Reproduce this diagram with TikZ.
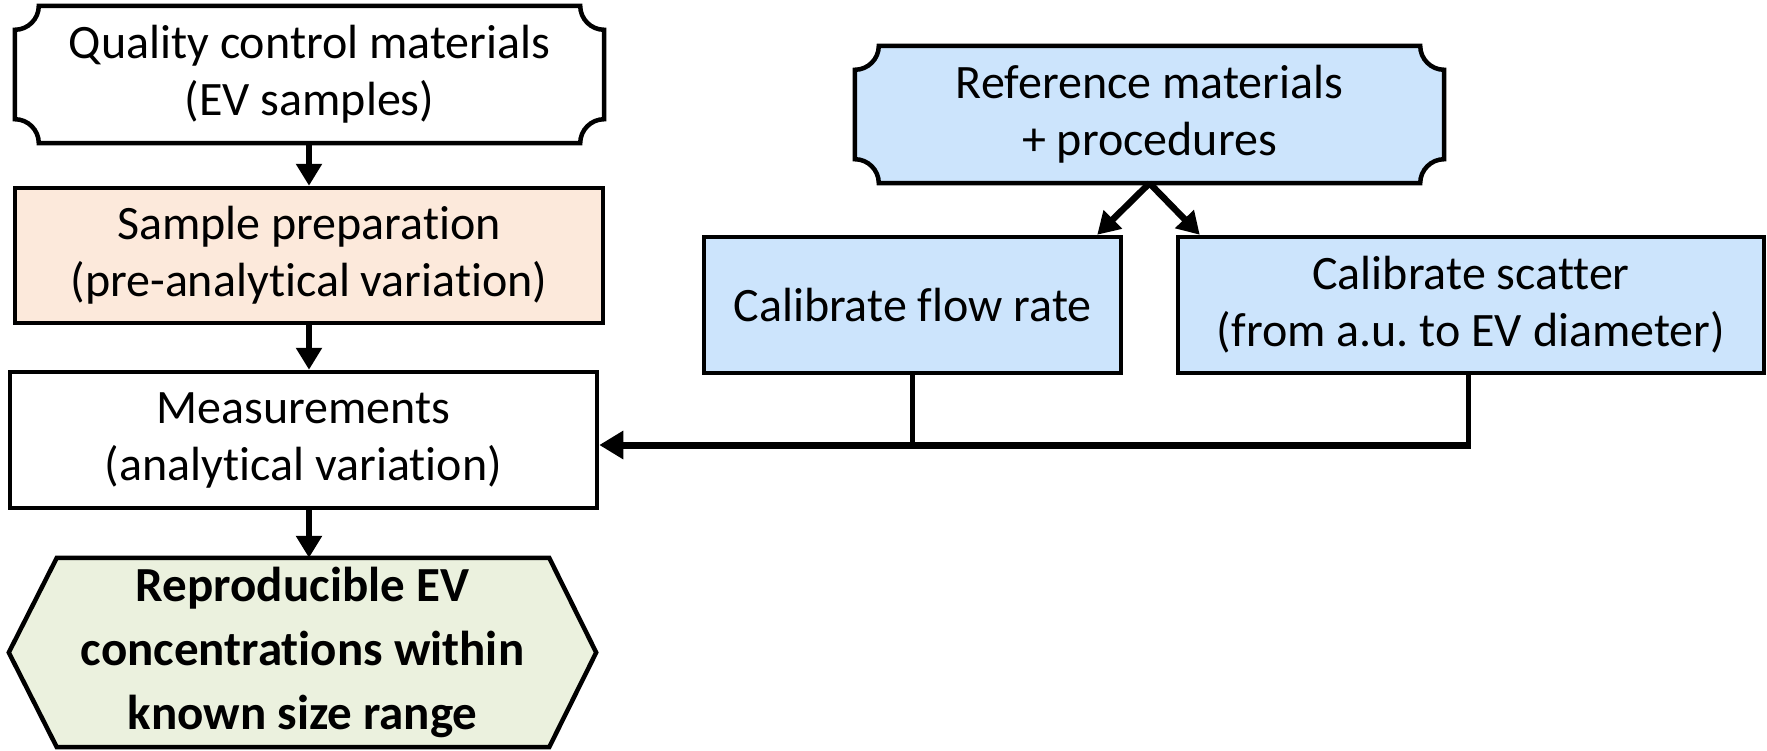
\documentclass[tikz,border=0pt]{standalone}
\usepackage{fontspec}
\setmainfont{Carlito}[Ligatures=NoCommon]
\frenchspacing
\usetikzlibrary{arrows.meta,calc,backgrounds}
\definecolor{bluefill}{RGB}{204,228,252}
\definecolor{peachfill}{RGB}{252,233,219}
\definecolor{olivefill}{RGB}{235,241,222}
\newcommand{\plaquebox}[2]{%
  \filldraw[boxline,fill=#2]
   (#1.north) -- ($(#1.north east)+(-24,0)$)
   .. controls ($(#1.north east)+(-24,13.2)$) and ($(#1.north east)+(-13.2,24)$) .. ($(#1.north east)+(0,24)$)
   -- ($(#1.south east)+(0,-24)$)
   .. controls ($(#1.south east)+(-13.2,-24)$) and ($(#1.south east)+(-24,-13.2)$) .. ($(#1.south east)+(-24,0)$)
   -- ($(#1.south west)+(24,0)$)
   .. controls ($(#1.south west)+(24,-13.2)$) and ($(#1.south west)+(13.2,-24)$) .. ($(#1.south west)+(0,-24)$)
   -- ($(#1.north west)+(0,24)$)
   .. controls ($(#1.north west)+(13.2,24)$) and ($(#1.north west)+(24,13.2)$) .. ($(#1.north west)+(24,0)$)
   -- cycle;
}
\begin{document}
\begin{tikzpicture}[x=1pt,y=-1pt,
  boxline/.style={line width=4.5pt, line join=miter},
  txt/.style={inner sep=0pt, align=center, font=\fontsize{48}{57}\selectfont},
  plainbox/.style={txt, draw, boxline},
  arr/.style={line width=6.5pt, -{Triangle[length=22pt,width=25pt]}},
  vline/.style={line width=5pt},
  hline/.style={line width=7pt, -{Triangle[length=24pt,width=27pt]}}
]
\useasboundingbox (0,0) rectangle (1767,750);

% nodes
\node[txt, minimum width=589pt, minimum height=137pt] (qc) at (309.5,74.5)
  {Quality control materials\\(EV samples)};
\node[plainbox, fill=peachfill, minimum width=588pt, minimum height=135pt] (prep) at (309,255.5)
  {Sample preparation\\(pre-analytical variation)};
\node[plainbox, fill=white, minimum width=587pt, minimum height=136pt] (meas) at (303.5,440)
  {Measurements\\(analytical variation)};
\node[txt, font=\fontsize{49}{64}\selectfont\bfseries, minimum width=587pt, minimum height=189pt] (hex) at (302.5,652.5)
  {Reproducible EV\\concentrations within\\known size range};
\node[txt, minimum width=589pt, minimum height=137pt] (ref) at (1149.5,114.5)
  {Reference materials\\+ procedures};
\node[plainbox, fill=bluefill, minimum width=417pt, minimum height=136pt] (flow) at (912.5,305)
  {Calibrate flow rate};
\node[plainbox, fill=bluefill, minimum width=586pt, minimum height=136pt] (scat) at (1471,305)
  {Calibrate scatter\\(from a.u. to EV diameter)};

% shaped backgrounds
\begin{scope}[on background layer]
  \plaquebox{qc}{white}
  \plaquebox{ref}{bluefill}
  \filldraw[boxline, fill=olivefill] (hex.west) -- ($(hex.north west)+(48,0)$) -- ($(hex.north east)+(-47,0)$)
    -- (hex.east) -- ($(hex.south east)+(-47,0)$) -- ($(hex.south west)+(48,0)$) -- cycle;
\end{scope}

% vertical chain
\draw[arr] (prep.north |- qc.south) -- (prep.north);
\draw[arr] (prep.south) -- (prep.south |- meas.north);
\draw[arr] (prep.south |- meas.south) -- (prep.south |- hex.north);

% reference to calibrations
\coordinate (ft) at ($(flow.north east)+(-26,0)$);
\coordinate (st) at ($(scat.north west)+(24,0)$);
\draw[arr] (ref.south) -- (ft);
\draw[arr] (ref.south) -- (st);

% calibrations to measurements
\coordinate (mj) at ($(meas.east)+(0,5)$);
\draw[vline] (flow.south) -- (flow.south |- mj);
\draw[vline] ($(scat.south)+(-3,0)$) -- ($(scat.south |- mj)+(-3,0)$);
\draw[hline] ($(scat.south |- mj)+(-0.5,0)$) -- (mj);
\end{tikzpicture}
\end{document}
